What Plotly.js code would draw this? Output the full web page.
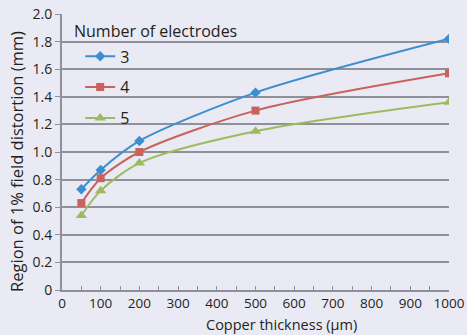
<!DOCTYPE html>
<html><head><meta charset="utf-8">
<script src="https://cdn.plot.ly/plotly-3.0.1.min.js"></script>
<style>body{margin:0;padding:0;}#chart{width:467px;height:335px;}</style>
</head><body><div id="chart"></div>
<script>
const thickness = [50, 100, 200, 500, 1000];
const series3 = [0.73, 0.87, 1.08, 1.43, 1.82];
const series4 = [0.63, 0.81, 1.00, 1.30, 1.57];
const series5 = [0.54, 0.72, 0.92, 1.15, 1.36];
const names = ['3', '4', '5'];
const yTickVals = [0, 0.2, 0.4, 0.6, 0.8, 1.0, 1.2, 1.4, 1.6, 1.8, 2.0];
const yTickText = ['0', '0.2', '0.4', '0.6', '0.8', '1.0', '1.2', '1.4', '1.6', '1.8', '2.0'];
const colors = ['#3b8fd0', '#c9625b', '#9cbb5e'];
const symbols = ['diamond', 'square', 'triangle-up'];
const allSeries = [series3, series4, series5];
const FONT = 'Open Sans, Noto Sans, sans-serif';
const traces = allSeries.map((s, i) => ({
  x: thickness, y: s, name: names[i], type: 'scatter', mode: 'lines+markers',
  line: {color: colors[i], width: 2, shape: 'spline', smoothing: 0.8},
  marker: {color: colors[i], symbol: symbols[i], size: i === 2 ? 10 : 8},
  legendgroup: 'g' + i
}));
const layout = {
  width: 467, height: 335,
  margin: {l: 62, r: 18, t: 14, b: 45},
  paper_bgcolor: '#eaeaf4', plot_bgcolor: '#eaeaf4',
  font: {family: FONT, size: 14, color: '#231f20'},
  showlegend: true,
  legend: {x: 0.047, y: 0.908, xanchor: 'left', yanchor: 'top', bgcolor: 'rgba(0,0,0,0)',
    font: {size: 16}, tracegroupgap: 7, traceorder: 'grouped'},
  annotations: [
    {text: 'Number of electrodes', xref: 'paper', yref: 'paper', x: 0.026, y: 0.985,
      xanchor: 'left', yanchor: 'top', showarrow: false, font: {size: 16}},
    {text: 'Copper thickness (µm)', xref: 'paper', yref: 'paper', x: 0.567, y: 0, yshift: -45,
      xanchor: 'center', yanchor: 'bottom', showarrow: false, font: {size: 14.5}, borderpad: 0},
    {text: 'Region of 1% field distortion (mm)', xref: 'paper', yref: 'paper', x: 0, xshift: -45, y: 0.464,
      xanchor: 'center', yanchor: 'middle', textangle: -90, showarrow: false, font: {size: 16.5}}
  ],
  xaxis: {range: [0, 1000], dtick: 100, tick0: 0, showgrid: false, zeroline: false,
    showline: true, linecolor: '#8e9199', linewidth: 2, ticks: 'inside', ticklen: 4, tickcolor: '#8e9199',
    minor: {dtick: 50, ticks: 'inside', ticklen: 4, tickcolor: '#8e9199'},
    tickfont: {size: 13.5}, ticklabelstandoff: 0},
  yaxis: {range: [0, 2.0], tickvals: yTickVals, ticktext: yTickText, showgrid: true, gridcolor: '#8e9199', gridwidth: 1.5,
    zeroline: false, showline: true, linecolor: '#8e9199', linewidth: 2, ticks: 'outside', ticklen: 5,
    tickcolor: '#8e9199', tickfont: {size: 14}}
};
Plotly.newPlot('chart', traces, layout, {displayModeBar: false});
</script></body></html>
